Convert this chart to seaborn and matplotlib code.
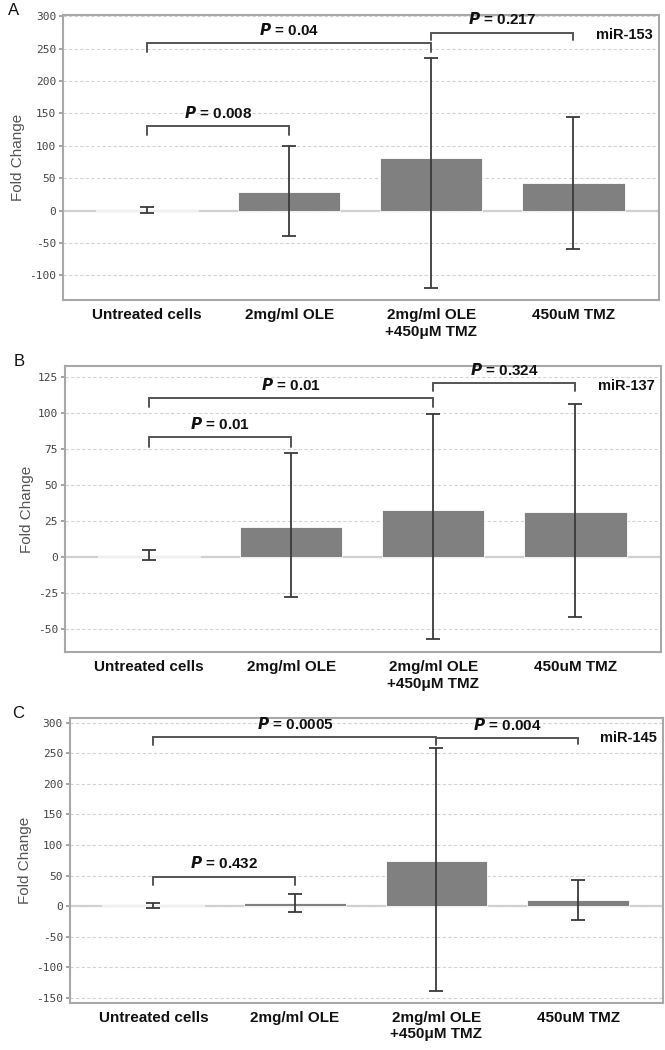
import numpy as np
import pandas as pd
import seaborn as sns
import matplotlib.pyplot as plt

# treatment groups shared by all three panels
groups = ["Untreated cells", "2mg/ml OLE", "2mg/ml OLE\n+450\u03bcM TMZ", "450uM TMZ"]

# miR-153 (panel A)
mir153_mean = [1, 28, 81, 42]
mir153_low = [-3, -39, -119, -60]
mir153_high = [5, 100, 235, 145]
mir153_brackets = [(0, 2, 259, 245, 245, "0.04"),
                   (2, 3, 275, 263, 263, "0.217"),
                   (0, 1, 131, 116, 116, "0.008")]

# miR-137 (panel B)
mir137_mean = [1, 21, 32.5, 31]
mir137_low = [-2.3, -28, -57, -42]
mir137_high = [4.6, 72, 99, 106]
mir137_brackets = [(0, 2, 110.5, 104, 104, "0.01"),
                   (2, 3, 120.5, 115.5, 115.5, "0.324"),
                   (0, 1, 83, 76, 76, "0.01")]

# miR-145 (panel C)
mir145_mean = [2, 5, 73.5, 9.8]
mir145_low = [-2.7, -9, -138, -22]
mir145_high = [6, 20, 259, 43]
mir145_brackets = [(0, 2, 277, 264, 264, "0.0005"),
                   (2, 3, 275, 265, 265, "0.004"),
                   (0, 1, 48.5, 34, 34, "0.432")]

panels = [
    ("A", "miR-153", mir153_mean, mir153_low, mir153_high, mir153_brackets,
     np.arange(-100, 301, 50), (-138, 302), [0.0947, 0.7143, 0.896, 0.2714], 0.012),
    ("B", "miR-137", mir137_mean, mir137_low, mir137_high, mir137_brackets,
     np.arange(-50, 126, 25), (-66, 132.5), [0.0977, 0.379, 0.896, 0.2724], 0.021),
    ("C", "miR-145", mir145_mean, mir145_low, mir145_high, mir145_brackets,
     np.arange(-150, 301, 50), (-158, 307.5), [0.105, 0.0448, 0.892, 0.2714], 0.018),
]

sns.set_theme(style="white")
plt.rcParams['font.family'] = ['Liberation Sans', 'DejaVu Sans']

fig = plt.figure(figsize=(6.65, 10.5), dpi=100)

for letter, mir, mean, low, high, brackets, yticks, ylim, pos, letter_x in panels:
    ax = fig.add_axes(pos)
    df = pd.DataFrame({"group": groups, "fold": mean})

    ax.axhline(0, color="#cfcfcf", lw=1.6, zorder=0.5)
    sns.barplot(data=df, x="group", y="fold", color="#808080", saturation=1,
                width=0.72, edgecolor="white", linewidth=0.6, errorbar=None,
                ax=ax, zorder=2)

    x = np.arange(len(groups))
    m = np.array(mean)
    yerr = [m - np.array(low), np.array(high) - m]
    ax.errorbar(x, m, yerr=yerr, fmt="none", ecolor="#3a3a3a", elinewidth=1.3,
                capsize=5, capthick=1.3, zorder=3)

    # significance brackets
    span = ylim[1] - ylim[0]
    for i, j, level, drop_i, drop_j, p in brackets:
        ax.plot([i, i, j, j], [drop_i, level, level, drop_j], color="#555555",
                lw=1.4, zorder=4, solid_joinstyle="miter")
        ax.text((i + j) / 2, level + span * 0.018, r"$\mathbfit{P}$ = " + p,
                ha="center", va="bottom", fontsize=11, fontweight="bold",
                color="#111111", zorder=5)

    ax.text(0.99, 0.955, mir, transform=ax.transAxes, ha="right", va="top",
            fontsize=10.5, fontweight="bold", color="#111111")

    ax.set_ylim(*ylim)
    ax.set_xlim(-0.59, 3.6)
    ax.set_yticks(yticks)
    ax.set_yticklabels([str(t) for t in yticks], family="DejaVu Sans Mono",
                       fontsize=8, color="#444444")
    ax.yaxis.grid(True, linestyle=(0, (3, 2)), color="#d4d4d4", linewidth=0.8)
    ax.set_axisbelow(True)
    ax.tick_params(axis="y", length=3, color="#999999", pad=2, left=True)
    ax.tick_params(axis="x", length=0, pad=6)
    for lab in ax.get_xticklabels():
        lab.set_fontweight("bold")
        lab.set_fontsize(11)
        lab.set_color("#111111")
    ax.set_xlabel("")
    ax.set_ylabel("Fold Change", fontsize=11, color="#555555", labelpad=3)
    for s in ax.spines.values():
        s.set_color("#a8a8a8")
        s.set_linewidth(1.5)

    fig.text(letter_x, pos[1] + pos[3] - 0.003, letter, fontsize=12,
             color="#111111", ha="left", va="bottom")

fig.savefig("out.png", dpi=100)
